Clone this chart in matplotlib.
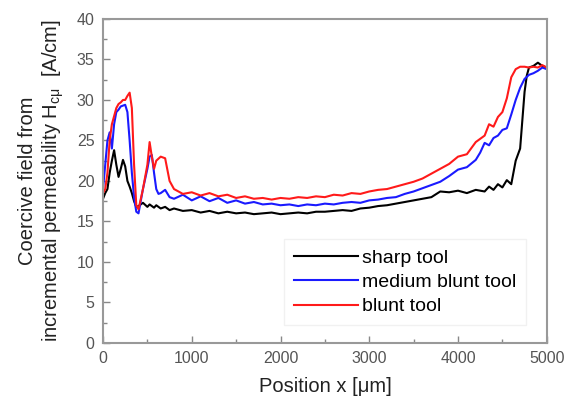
import matplotlib
matplotlib.use("Agg")
import matplotlib.pyplot as plt
from matplotlib.ticker import MultipleLocator

plt.rcParams['font.family'] = ['Liberation Sans', 'DejaVu Sans']

x_sharp = [0, 25, 50, 75, 100, 125, 150, 175, 200, 225, 250, 275, 300, 325, 350, 375, 400,
           450, 500, 525, 550, 575, 600, 650, 700, 750, 800,
           900, 1000, 1100, 1200, 1300, 1400, 1500, 1600, 1700, 1800, 1900, 2000, 2100, 2200,
           2300, 2400, 2500, 2600, 2700, 2800, 2900, 3000, 3100, 3200, 3300, 3400, 3500, 3600,
           3700, 3800, 3900, 4000, 4100, 4200, 4300, 4350, 4400, 4450, 4500, 4550, 4600, 4650,
           4700, 4725, 4750, 4775, 4800, 4850, 4900, 4950, 5000]
y_sharp = [17.8, 18.5, 19.0, 21.0, 22.5, 23.8, 22.0, 20.5, 21.5, 22.6, 21.8, 20.0, 19.3, 18.5, 17.5, 16.8, 16.9,
           17.3, 16.8, 17.1, 16.9, 16.7, 17.0, 16.6, 16.8, 16.4, 16.6,
           16.3, 16.4, 16.1, 16.3, 16.0, 16.2, 16.0, 16.1, 15.9, 16.0, 16.1, 15.9, 16.0, 16.1,
           16.0, 16.2, 16.2, 16.3, 16.4, 16.3, 16.6, 16.7, 16.9, 17.0, 17.2, 17.4, 17.6, 17.8,
           18.0, 18.7, 18.6, 18.8, 18.5, 18.9, 18.7, 19.3, 18.9, 19.6, 19.2, 20.1, 19.6, 22.5,
           24.0, 27.5, 31.0, 33.0, 34.0, 34.2, 34.6, 34.2, 34.0]

x_medium = [0, 25, 50, 75, 100, 125, 150, 175, 200, 225, 250, 275, 300, 325, 350, 375, 400,
            450, 500, 525, 550, 575, 600, 625, 650, 700, 750, 800,
            900, 1000, 1100, 1200, 1300, 1400, 1500, 1600, 1700, 1800, 1900, 2000, 2100, 2200,
            2300, 2400, 2500, 2600, 2700, 2800, 2900, 3000, 3100, 3200, 3300, 3400, 3500, 3600,
            3700, 3800, 3900, 4000, 4100, 4200, 4250, 4300, 4350, 4400, 4450, 4500, 4550, 4600,
            4650, 4700, 4750, 4800, 4850, 4900, 4950, 5000]
y_medium = [19.0, 22.0, 25.0, 26.0, 24.0, 27.0, 28.5, 28.8, 29.2, 29.3, 29.4, 28.5, 25.0, 21.0, 18.0, 16.2, 16.0,
            19.0, 21.5, 23.0, 23.2, 21.0, 19.0, 18.4, 18.5, 18.9, 18.0, 17.8,
            18.3, 17.6, 18.1, 17.5, 17.9, 17.3, 17.6, 17.2, 17.4, 17.1, 17.2, 17.0, 17.1, 16.9,
            17.1, 17.0, 17.2, 17.1, 17.3, 17.4, 17.3, 17.6, 17.7, 17.9, 18.0, 18.4, 18.7, 19.1,
            19.5, 19.9, 20.6, 21.4, 21.7, 22.6, 23.5, 24.7, 24.4, 25.3, 25.6, 26.3, 26.5, 28.2,
            30.0, 31.5, 32.6, 33.1, 33.3, 33.6, 34.0, 33.8]

x_blunt = [0, 25, 50, 75, 100, 125, 150, 175, 200, 225, 250, 275, 300, 325, 350, 375, 400,
           450, 500, 525, 550, 575, 600, 650, 700, 750, 800,
           900, 1000, 1100, 1200, 1300, 1400, 1500, 1600, 1700, 1800, 1900, 2000, 2100, 2200,
           2300, 2400, 2500, 2600, 2700, 2800, 2900, 3000, 3100, 3200, 3300, 3400, 3500, 3600,
           3700, 3800, 3900, 4000, 4100, 4200, 4300, 4350, 4400, 4450, 4500, 4550, 4600, 4650,
           4700, 4750, 4800, 4850, 4900, 4950, 5000]
y_blunt = [18.5, 19.0, 21.0, 25.0, 27.0, 28.0, 29.0, 29.5, 29.7, 30.0, 30.0, 30.5, 30.9, 29.0, 22.0, 17.0, 16.5,
           19.0, 22.0, 24.8, 23.0, 21.5, 22.5, 23.0, 22.8, 20.0, 19.0,
           18.4, 18.6, 18.2, 18.5, 18.1, 18.3, 17.9, 18.1, 17.8, 17.9, 17.7, 17.9, 17.8, 18.0,
           17.9, 18.1, 18.0, 18.3, 18.2, 18.5, 18.4, 18.7, 18.9, 19.0, 19.3, 19.6, 19.9, 20.3,
           20.9, 21.5, 22.1, 23.0, 23.3, 24.8, 25.6, 27.0, 26.7, 27.9, 28.5, 30.2, 32.8, 33.8,
           34.1, 34.1, 34.0, 34.1, 34.0, 34.3, 34.0]

series_labels = ["sharp tool", "medium blunt tool", "blunt tool"]
series_colors = ["black", "#1a1aff", "#ff1a1a"]

fig = plt.figure(figsize=(5.66, 4.03), dpi=100)
ax = fig.add_axes([0.182, 0.149, 0.784, 0.804])

for xs, ys, lab, col in zip([x_sharp, x_medium, x_blunt], [y_sharp, y_medium, y_blunt],
                            series_labels, series_colors):
    ax.plot(xs, ys, color=col, lw=1.5, label=lab)

ax.set_xlim(0, 5000)
ax.set_ylim(0, 40)
ax.xaxis.set_major_locator(MultipleLocator(1000))
ax.xaxis.set_minor_locator(MultipleLocator(500))
ax.yaxis.set_major_locator(MultipleLocator(5))
ax.yaxis.set_minor_locator(MultipleLocator(2.5))
ax.tick_params(which='both', direction='in', colors='#888888', labelcolor='#555555',
               labelsize=11.5, top=False, right=False)
ax.tick_params(which='major', length=5, width=1, pad=6)
ax.tick_params(which='minor', length=3, width=1)
for s in ax.spines.values():
    s.set_color('#999999')
    s.set_linewidth(1.5)

ax.set_xlabel("Position x [μm]", fontsize=14.5, color='#222222', labelpad=8)
ax.set_ylabel("Coercive field from\nincremental permeability H$_{\\mathregular{cμ}}$  [A/cm]",
              fontsize=14.5, color='#222222', labelpad=8)

leg = ax.legend(loc='lower right', bbox_to_anchor=(0.975, 0.025), fontsize=14,
                handlelength=3.3, handletextpad=0.2, labelspacing=0.35,
                frameon=True, fancybox=False, borderpad=0.5)
leg.get_frame().set_edgecolor('#eeeeee')
leg.get_frame().set_linewidth(1.0)

fig.savefig("out.png", dpi=100)
